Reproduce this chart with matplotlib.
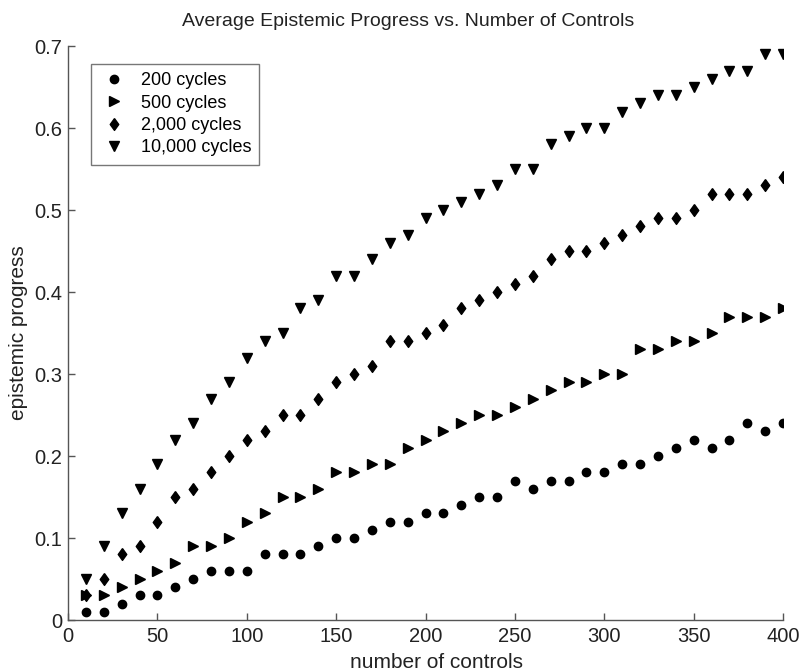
import matplotlib
matplotlib.use("Agg")
import matplotlib.pyplot as plt
import numpy as np

plt.rcParams['font.family'] = ['Liberation Sans', 'DejaVu Sans']

controls = list(range(10, 401, 10))

cycles_200 = [0.01, 0.01, 0.02, 0.03, 0.03, 0.04, 0.05, 0.06, 0.06, 0.06,
              0.08, 0.08, 0.08, 0.09, 0.10, 0.10, 0.11, 0.12, 0.12, 0.13,
              0.13, 0.14, 0.15, 0.15, 0.17, 0.16, 0.17, 0.17, 0.18, 0.18,
              0.19, 0.19, 0.20, 0.21, 0.22, 0.21, 0.22, 0.24, 0.23, 0.24]
cycles_500 = [0.03, 0.03, 0.04, 0.05, 0.06, 0.07, 0.09, 0.09, 0.10, 0.12,
              0.13, 0.15, 0.15, 0.16, 0.18, 0.18, 0.19, 0.19, 0.21, 0.22,
              0.23, 0.24, 0.25, 0.25, 0.26, 0.27, 0.28, 0.29, 0.29, 0.30,
              0.30, 0.33, 0.33, 0.34, 0.34, 0.35, 0.37, 0.37, 0.37, 0.38]
cycles_2000 = [0.03, 0.05, 0.08, 0.09, 0.12, 0.15, 0.16, 0.18, 0.20, 0.22,
               0.23, 0.25, 0.25, 0.27, 0.29, 0.30, 0.31, 0.34, 0.34, 0.35,
               0.36, 0.38, 0.39, 0.40, 0.41, 0.42, 0.44, 0.45, 0.45, 0.46,
               0.47, 0.48, 0.49, 0.49, 0.50, 0.52, 0.52, 0.52, 0.53, 0.54]
cycles_10000 = [0.05, 0.09, 0.13, 0.16, 0.19, 0.22, 0.24, 0.27, 0.29, 0.32,
                0.34, 0.35, 0.38, 0.39, 0.42, 0.42, 0.44, 0.46, 0.47, 0.49,
                0.50, 0.51, 0.52, 0.53, 0.55, 0.55, 0.58, 0.59, 0.60, 0.60,
                0.62, 0.63, 0.64, 0.64, 0.65, 0.66, 0.67, 0.67, 0.69, 0.69]

series_labels = ['200 cycles', '500 cycles', '2,000 cycles', '10,000 cycles']
x_ticks = [0, 50, 100, 150, 200, 250, 300, 350, 400]
y_ticks = [0, 0.1, 0.2, 0.3, 0.4, 0.5, 0.6, 0.7]
y_tick_labels = ['0', '0.1', '0.2', '0.3', '0.4', '0.5', '0.6', '0.7']

W, H = 802, 671
fig = plt.figure(figsize=(W/100, H/100), dpi=100)
ax = fig.add_axes([68/W, 1 - 620/H, (783-68)/W, (620-46)/H])

diamond = [(0, 1), (0.72, 0), (0, -1), (-0.72, 0), (0, 1)]
series = [cycles_200, cycles_500, cycles_2000, cycles_10000]
markers = ['o', '>', diamond, 'v']
sizes = [6.0, 6.5, 8.5, 7.0]
for vals, lab, m, s in zip(series, series_labels, markers, sizes):
    ax.plot(controls, vals, linestyle='none', marker=m, markersize=s,
            color='black', label=lab)

ax.set_xlim(0, 400)
ax.set_ylim(0, 0.7)
ax.set_xticks(x_ticks)
ax.set_xticklabels([str(t) for t in x_ticks])
ax.set_yticks(y_ticks)
ax.set_yticklabels(y_tick_labels)

for sp in ['top', 'right']:
    ax.spines[sp].set_visible(False)
for sp in ['left', 'bottom']:
    ax.spines[sp].set_color('#555555')
    ax.spines[sp].set_linewidth(1.0)

ax.tick_params(direction='in', length=5, width=1, colors='#555555',
               labelcolor='#222222', labelsize=14.5)
ax.tick_params(axis='y', pad=4)
ax.tick_params(axis='x', pad=5)

fig.text(436/W, 1 - 662/H, 'number of controls', fontsize=15,
         color='#222222', ha='center', va='center')
fig.text(19/W, 1 - 333/H, 'epistemic progress', fontsize=15,
         color='#222222', ha='center', va='center', rotation=90)
fig.text(408/W, 1 - 22/H, 'Average Epistemic Progress vs. Number of Controls',
         fontsize=14, color='#222222', ha='center', va='center')

leg = ax.legend(loc='upper left', bbox_to_anchor=(23/715, (620-64)/574),
                frameon=True, fancybox=False, fontsize=13,
                handletextpad=0.7, borderpad=0.45, labelspacing=0.3,
                handlelength=1.6, borderaxespad=0)
leg.get_frame().set_edgecolor('#555555')
leg.get_frame().set_linewidth(1.0)

fig.savefig('out.png', dpi=100)
